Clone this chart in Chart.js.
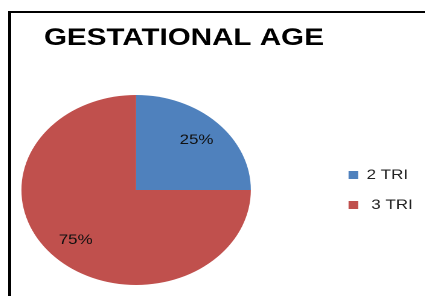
<!DOCTYPE html>
<html>
<head>
<meta charset="utf-8">
<script src="https://cdn.jsdelivr.net/npm/chart.js@4/dist/chart.umd.min.js"></script>
<style>
  html, body { margin: 0; padding: 0; background: #fff; width: 425px; height: 296px; overflow: hidden; }
  #frame { position: absolute; left: 8px; top: 11px; right: -5px; bottom: -5px;
           border-left: 3px solid #000; border-top: 2px solid #000; }
  #wrap { position: absolute; left: -56.75px; top: 0; width: 399px; height: 296px;
          transform: scaleX(1.2074); transform-origin: 0 0; }
</style>
</head>
<body>
<div id="frame"></div>
<div id="wrap"><canvas id="c"></canvas></div>
<script>
const titleText = 'GESTATIONAL AGE';
const categories = ['2 TRI', ' 3 TRI'];
const values = [25, 75];
const colors = ['#4F81BD', '#C0504D'];

const sliceLabels = {
  id: 'sliceLabels',
  afterDatasetsDraw(chart) {
    const ctx = chart.ctx;
    const meta = chart.getDatasetMeta(0);
    ctx.save();
    ctx.font = '14px "Liberation Sans", Arial, sans-serif';
    ctx.fillStyle = '#111';
    ctx.textAlign = 'center';
    ctx.textBaseline = 'middle';
    meta.data.forEach((arc, i) => {
      const p = arc.getProps(['x', 'y', 'startAngle', 'endAngle', 'outerRadius'], true);
      const mid = (p.startAngle + p.endAngle) / 2;
      const r = p.outerRadius * 0.745;
      ctx.fillText(values[i] + '%', p.x + Math.cos(mid) * r, p.y + Math.sin(mid) * r);
    });
    ctx.restore();
  }
};

new Chart(document.getElementById('c'), {
  type: 'pie',
  data: {
    labels: categories,
    datasets: [{
      data: values,
      backgroundColor: colors,
      borderWidth: 0
    }]
  },
  options: {
    responsive: true,
    maintainAspectRatio: false,
    animation: false,
    devicePixelRatio: 2,
    layout: { padding: { left: 0, right: 0, top: 0, bottom: 11 } },
    plugins: {
      tooltip: { enabled: false },
      title: {
        display: true,
        text: titleText,
        align: 'center',
        color: '#000',
        font: { family: '"Liberation Sans", Arial, sans-serif', size: 24.5, weight: 'bold', lineHeight: 1.2 },
        padding: { top: 23.7, bottom: 41.9 }
      },
      legend: {
        position: 'right',
        align: 'center',
        fullSize: false,
        labels: {
          boxWidth: 8,
          boxHeight: 8,
          padding: 16,
          color: '#222',
          font: { family: '"Liberation Sans", Arial, sans-serif', size: 14 }
        }
      }
    }
  },
  plugins: [sliceLabels]
});
</script>
</body>
</html>
